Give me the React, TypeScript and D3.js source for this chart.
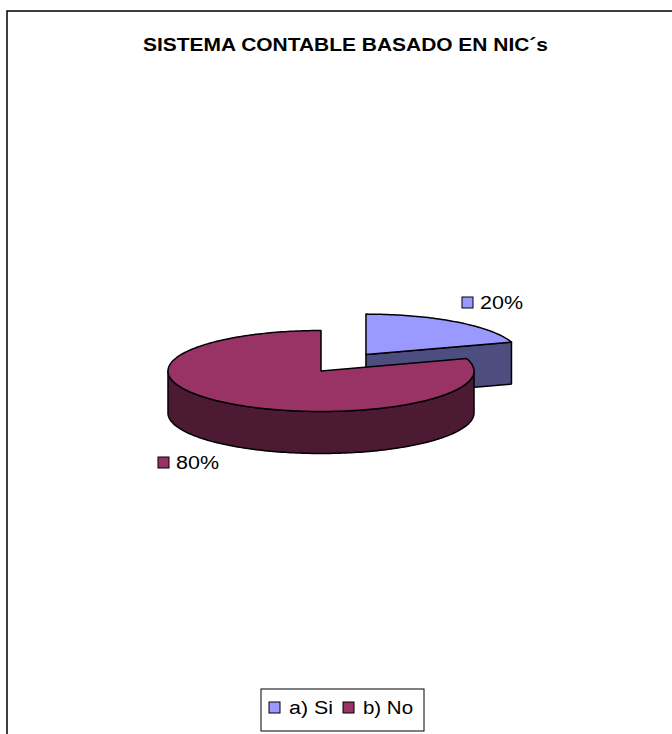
import React from "react";
import * as d3 from "d3";

const title = "SISTEMA CONTABLE BASADO EN NIC´s";
const categories = ["a) Si", "b) No"];
const values = [20, 80];
const labels = ["20%", "80%"];
const topColors = ["#9999FF", "#993366"];
const sideColors = ["#4D4D80", "#4D1A33"];
const explode = [0.5, 0];

const W = 672;
const H = 734;
const cx = 321;
const cy = 371;
const rx = 153;
const ry = 40.5;
const depth = 42;
const font = "'Liberation Sans', Arial, sans-serif";

function pt(ox: number, oy: number, a: number, dz = 0): [number, number] {
  return [ox + rx * Math.sin(a), oy - ry * Math.cos(a) + dz];
}

function arcPts(ox: number, oy: number, a0: number, a1: number, dz = 0) {
  const n = Math.max(2, Math.ceil(Math.abs(a1 - a0) / 0.02));
  return d3.range(n + 1).map((i) => pt(ox, oy, a0 + ((a1 - a0) * i) / n, dz));
}

const line = d3.line();

export default function App() {
  const pie = d3.pie<number>().sort(null).startAngle(0).endAngle(2 * Math.PI);
  const arcs = pie(values);

  const slices = arcs.map((a, i) => {
    const mid = (a.startAngle + a.endAngle) / 2;
    const ox = cx + explode[i] * rx * Math.sin(mid);
    const oy = cy - explode[i] * ry * Math.cos(mid);
    const faces: string[] = [];
    const s = Math.max(a.startAngle, Math.PI / 2);
    const e = Math.min(a.endAngle, (3 * Math.PI) / 2);
    if (e > s) {
      const top = arcPts(ox, oy, s, e);
      const bot = arcPts(ox, oy, s, e, depth).reverse();
      faces.push(line([...top, ...bot])! + "Z");
    }
    if (Math.sin(a.endAngle) > 1e-6) {
      const p = pt(ox, oy, a.endAngle);
      faces.push(
        line([
          [ox, oy],
          p,
          [p[0], p[1] + depth],
          [ox, oy + depth],
        ])! + "Z"
      );
    }
    if (Math.sin(a.startAngle) < -1e-6) {
      const p = pt(ox, oy, a.startAngle);
      faces.push(
        line([
          [ox, oy],
          p,
          [p[0], p[1] + depth],
          [ox, oy + depth],
        ])! + "Z"
      );
    }
    const topPath =
      line([[ox, oy], ...arcPts(ox, oy, a.startAngle, a.endAngle)])! + "Z";
    return { i, faces, topPath };
  });

  const labelPos: [number, number][] = [
    [462, 309],
    [158, 469],
  ];
  const labelLen = [43, 43];

  const legendItems = [
    { sq: 269, tx: 289, len: 44 },
    { sq: 343, tx: 363, len: 50 },
  ];

  return (
    <svg
      width={W}
      height={H}
      style={{ position: "absolute", left: 0, top: 0, background: "#fff" }}
    >
      <rect x={7} y={11} width={700} height={760} fill="#fff" stroke="#000" strokeWidth={1.5} />
      <text
        x={345.5}
        y={51}
        textAnchor="middle"
        fontFamily={font}
        fontWeight="bold"
        fontSize={19}
        textLength={405}
        lengthAdjust="spacingAndGlyphs"
      >
        {title}
      </text>
      {slices.map((sl) => (
        <g key={sl.i}>
          {sl.faces.map((f, k) => (
            <path key={k} d={f} fill={sideColors[sl.i]} stroke="#000" strokeWidth={1.5} strokeLinejoin="round" />
          ))}
          <path d={sl.topPath} fill={topColors[sl.i]} stroke="#000" strokeWidth={1.5} strokeLinejoin="round" />
        </g>
      ))}
      {labels.map((l, i) => (
        <g key={l}>
          <rect x={labelPos[i][0]} y={labelPos[i][1] - 12} width={11} height={11} fill={topColors[i]} stroke="#000" strokeWidth={1} />
          <text
            x={labelPos[i][0] + 18}
            y={labelPos[i][1]}
            fontFamily={font}
            fontSize={18}
            textLength={labelLen[i]}
            lengthAdjust="spacingAndGlyphs"
            fill="#000"
          >
            {l}
          </text>
        </g>
      ))}
      <rect x={261} y={689} width={163} height={42} fill="#fff" stroke="#000" strokeWidth={1} />
      {categories.map((c, i) => (
        <g key={c}>
          <rect x={legendItems[i].sq} y={702} width={11} height={11} fill={topColors[i]} stroke="#000" strokeWidth={1} />
          <text
            x={legendItems[i].tx}
            y={714}
            fontFamily={font}
            fontSize={18}
            textLength={legendItems[i].len}
            lengthAdjust="spacingAndGlyphs"
            fill="#000"
          >
            {c}
          </text>
        </g>
      ))}
    </svg>
  );
}
